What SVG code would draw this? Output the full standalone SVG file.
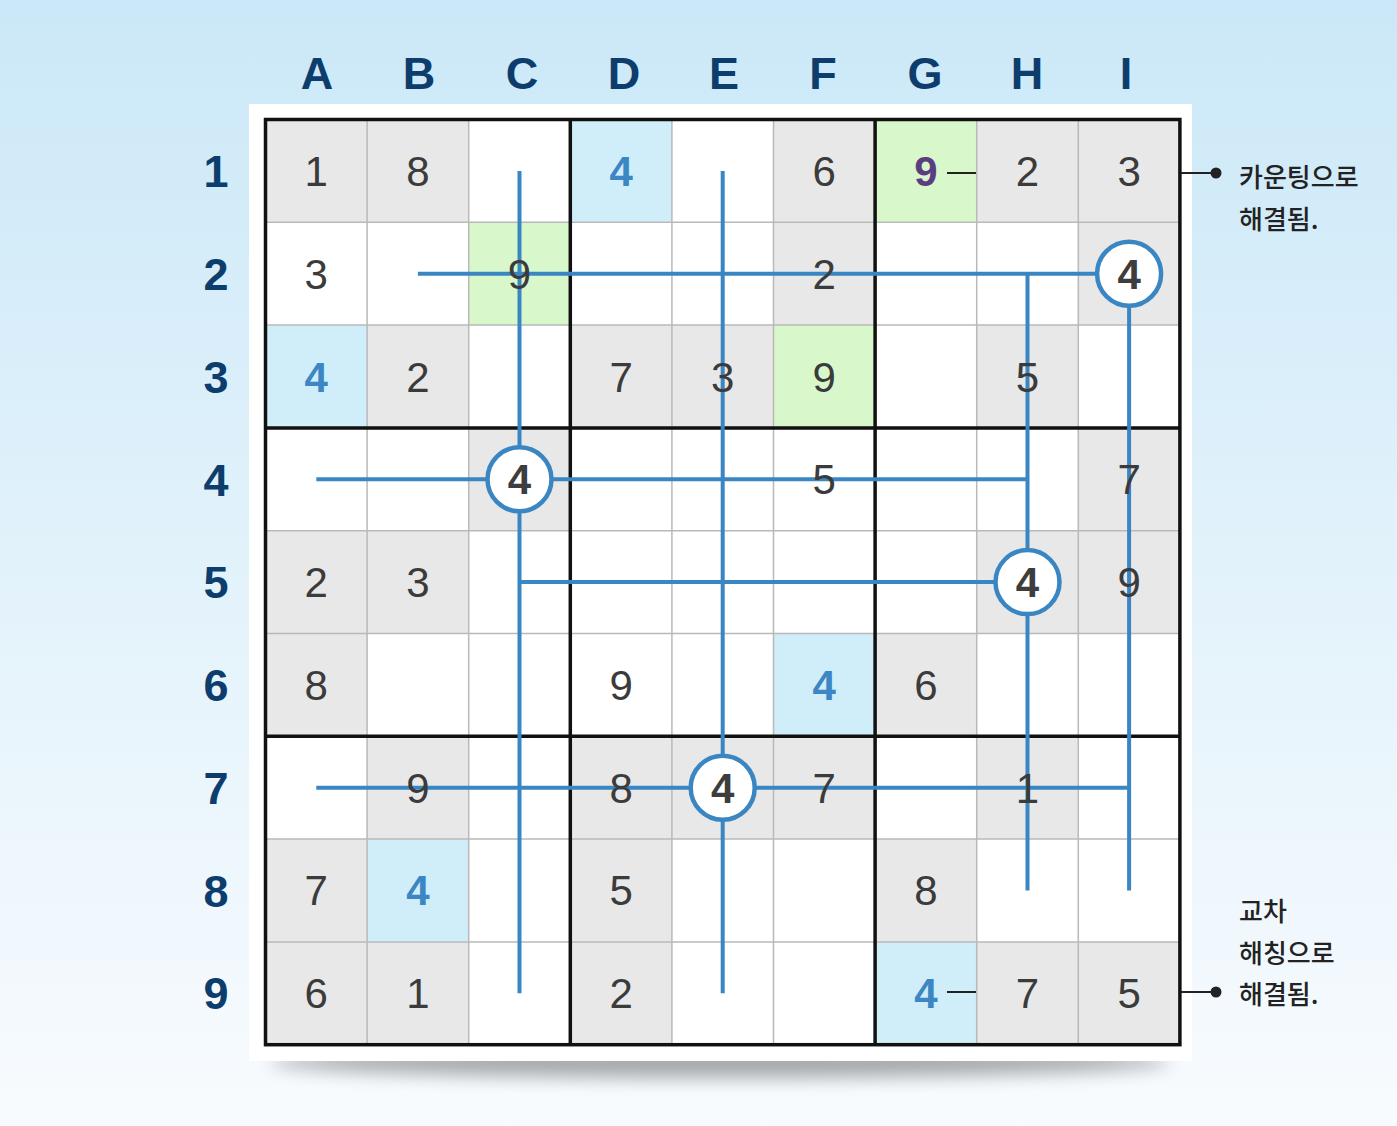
<svg xmlns="http://www.w3.org/2000/svg" width="1397" height="1126" viewBox="0 0 1397 1126">
<defs>
<linearGradient id="bg" x1="0" y1="0" x2="0" y2="1">
<stop offset="0" stop-color="#cbe8f8"/>
<stop offset="0.5" stop-color="#e2f2fb"/>
<stop offset="1" stop-color="#f8fbfe"/>
</linearGradient>
<filter id="blur" x="-20%" y="-200%" width="140%" height="500%">
<feGaussianBlur stdDeviation="9"/>
</filter>
<style>
.hdr{font-family:"Liberation Sans",Arial,sans-serif;font-weight:bold;font-size:45px;fill:#0c3d6c;text-anchor:middle}
.d{font-family:"Liberation Sans",Arial,sans-serif;font-size:42px;fill:#3b3b3b;text-anchor:middle}
.db{font-family:"Liberation Sans",Arial,sans-serif;font-size:42px;font-weight:bold;fill:#3c86c4;text-anchor:middle}
.dp{font-family:"Liberation Sans",Arial,sans-serif;font-size:42px;font-weight:bold;fill:#5a3e80;text-anchor:middle}
.dc{font-family:"Liberation Sans",Arial,sans-serif;font-size:42px;font-weight:bold;fill:#3d3d3d;text-anchor:middle}
.g{fill:#e8e8e8}
.b{fill:#d0edfa}
.gr{fill:#d8f8cc}
.thin{stroke:#b9b9b9;stroke-width:1.5;fill:none}
.thick{stroke:#111;stroke-width:3.5;fill:none}
.bl{stroke:#3a86c3;stroke-width:4;fill:none;stroke-linecap:butt}
.circ{fill:#fff;stroke:#3a86c3;stroke-width:4.5}
.k{stroke:#222;stroke-width:1.8;fill:none}
.lbl{font-family:"Noto Sans CJK KR","Noto Sans",sans-serif;font-size:26px;font-weight:500;fill:#222}
</style>
</defs>
<rect x="0" y="0" width="1397" height="1126" fill="url(#bg)"/>
<ellipse cx="720" cy="1062" rx="450" ry="16" fill="#000" opacity="0.32" filter="url(#blur)"/>
<rect x="249" y="104" width="943" height="957" fill="#ffffff"/>

<g id="headers">
<text class="hdr" x="317" y="89">A</text>
<text class="hdr" x="419" y="89">B</text>
<text class="hdr" x="522" y="89">C</text>
<text class="hdr" x="624" y="89">D</text>
<text class="hdr" x="724" y="89">E</text>
<text class="hdr" x="823" y="89">F</text>
<text class="hdr" x="925" y="89">G</text>
<text class="hdr" x="1027" y="89">H</text>
<text class="hdr" x="1126" y="89">I</text>
<text class="hdr" x="216" y="187">1</text>
<text class="hdr" x="216" y="290">2</text>
<text class="hdr" x="216" y="393">3</text>
<text class="hdr" x="216" y="496">4</text>
<text class="hdr" x="216" y="598">5</text>
<text class="hdr" x="216" y="701">6</text>
<text class="hdr" x="216" y="804">7</text>
<text class="hdr" x="216" y="907">8</text>
<text class="hdr" x="216" y="1009">9</text>
</g>

<g id="cells">
<rect class="g" x="265.5" y="119.5" width="101.6" height="102.8"/>
<rect class="g" x="367.1" y="119.5" width="101.6" height="102.8"/>
<rect class="b" x="570.3" y="119.5" width="101.6" height="102.8"/>
<rect class="g" x="773.5" y="119.5" width="101.6" height="102.8"/>
<rect class="gr" x="875.1" y="119.5" width="101.6" height="102.8"/>
<rect class="g" x="976.7" y="119.5" width="101.6" height="102.8"/>
<rect class="g" x="1078.3" y="119.5" width="101.6" height="102.8"/>

<rect class="gr" x="468.7" y="222.3" width="101.6" height="102.8"/>
<rect class="g" x="773.5" y="222.3" width="101.6" height="102.8"/>
<rect class="g" x="1078.3" y="222.3" width="101.6" height="102.8"/>

<rect class="b" x="265.5" y="325.1" width="101.6" height="102.8"/>
<rect class="g" x="367.1" y="325.1" width="101.6" height="102.8"/>
<rect class="g" x="570.3" y="325.1" width="101.6" height="102.8"/>
<rect class="g" x="671.9" y="325.1" width="101.6" height="102.8"/>
<rect class="gr" x="773.5" y="325.1" width="101.6" height="102.8"/>
<rect class="g" x="976.7" y="325.1" width="101.6" height="102.8"/>

<rect class="g" x="468.7" y="427.9" width="101.6" height="102.8"/>
<rect class="g" x="1078.3" y="427.9" width="101.6" height="102.8"/>

<rect class="g" x="265.5" y="530.7" width="101.6" height="102.8"/>
<rect class="g" x="367.1" y="530.7" width="101.6" height="102.8"/>
<rect class="g" x="976.7" y="530.7" width="101.6" height="102.8"/>
<rect class="g" x="1078.3" y="530.7" width="101.6" height="102.8"/>

<rect class="g" x="265.5" y="633.5" width="101.6" height="102.8"/>
<rect class="b" x="773.5" y="633.5" width="101.6" height="102.8"/>
<rect class="g" x="875.1" y="633.5" width="101.6" height="102.8"/>

<rect class="g" x="367.1" y="736.3" width="101.6" height="102.8"/>
<rect class="g" x="570.3" y="736.3" width="101.6" height="102.8"/>
<rect class="g" x="671.9" y="736.3" width="101.6" height="102.8"/>
<rect class="g" x="773.5" y="736.3" width="101.6" height="102.8"/>
<rect class="g" x="976.7" y="736.3" width="101.6" height="102.8"/>

<rect class="g" x="265.5" y="839.1" width="101.6" height="102.8"/>
<rect class="b" x="367.1" y="839.1" width="101.6" height="102.8"/>
<rect class="g" x="570.3" y="839.1" width="101.6" height="102.8"/>
<rect class="g" x="875.1" y="839.1" width="101.6" height="102.8"/>

<rect class="g" x="265.5" y="941.9" width="101.6" height="102.8"/>
<rect class="g" x="367.1" y="941.9" width="101.6" height="102.8"/>
<rect class="g" x="570.3" y="941.9" width="101.6" height="102.8"/>
<rect class="b" x="875.1" y="941.9" width="101.6" height="102.8"/>
<rect class="g" x="976.7" y="941.9" width="101.6" height="102.8"/>
<rect class="g" x="1078.3" y="941.9" width="101.6" height="102.8"/>
</g>

<g id="gridlines">
<path class="thin" d="M367.1 119.5V1044.7M468.7 119.5V1044.7M671.9 119.5V1044.7M773.5 119.5V1044.7M976.7 119.5V1044.7M1078.3 119.5V1044.7M265.5 222.3H1179.9M265.5 325.1H1179.9M265.5 530.7H1179.9M265.5 633.5H1179.9M265.5 839.1H1179.9M265.5 941.9H1179.9"/>
<path class="thick" d="M570.3 119.5V1044.7M875.1 119.5V1044.7M265.5 427.9H1179.9M265.5 736.3H1179.9"/>
<rect class="thick" x="265.5" y="119.5" width="914.4" height="925.2"/>
</g>

<g id="connectors">
<path class="bl" d="M519.5 170.9V993.3"/>
<path class="bl" d="M417.9 273.7H1129.1"/>
<path class="bl" d="M722.7 170.9V993.3"/>
<path class="bl" d="M316.3 479.3H1027.5"/>
<path class="bl" d="M1027.5 273.7V890.5"/>
<path class="bl" d="M519.5 582.1H1027.5"/>
<path class="bl" d="M1129.1 273.7V890.5"/>
<path class="bl" d="M316.3 787.7H1129.1"/>
<path class="k" d="M947 173H976M1181 173H1216M947 992H976M1181 992H1216"/>
<circle cx="1216" cy="173" r="5.5" fill="#222"/>
<circle cx="1216" cy="992" r="5.5" fill="#222"/>
</g>

<g id="digits">
<text class="d" x="316.3" y="186">1</text>
<text class="d" x="417.9" y="186">8</text>
<text class="db" x="621.1" y="186">4</text>
<text class="d" x="824.3" y="186">6</text>
<text class="dp" x="925.9" y="186">9</text>
<text class="d" x="1027.5" y="186">2</text>
<text class="d" x="1129.1" y="186">3</text>

<text class="d" x="316.3" y="289">3</text>
<text class="d" x="519.5" y="289">9</text>
<text class="d" x="824.3" y="289">2</text>

<text class="db" x="316.3" y="392">4</text>
<text class="d" x="417.9" y="392">2</text>
<text class="d" x="621.1" y="392">7</text>
<text class="d" x="722.7" y="392">3</text>
<text class="d" x="824.3" y="392">9</text>
<text class="d" x="1027.5" y="392">5</text>

<text class="d" x="824.3" y="494">5</text>
<text class="d" x="1129.1" y="494">7</text>

<text class="d" x="316.3" y="597">2</text>
<text class="d" x="417.9" y="597">3</text>
<text class="d" x="1129.1" y="597">9</text>

<text class="d" x="316.3" y="700">8</text>
<text class="d" x="621.1" y="700">9</text>
<text class="db" x="824.3" y="700">4</text>
<text class="d" x="925.9" y="700">6</text>

<text class="d" x="417.9" y="803">9</text>
<text class="d" x="621.1" y="803">8</text>
<text class="d" x="824.3" y="803">7</text>
<text class="d" x="1027.5" y="803">1</text>

<text class="d" x="316.3" y="905">7</text>
<text class="db" x="417.9" y="905">4</text>
<text class="d" x="621.1" y="905">5</text>
<text class="d" x="925.9" y="905">8</text>

<text class="d" x="316.3" y="1008">6</text>
<text class="d" x="417.9" y="1008">1</text>
<text class="d" x="621.1" y="1008">2</text>
<text class="db" x="925.9" y="1008">4</text>
<text class="d" x="1027.5" y="1008">7</text>
<text class="d" x="1129.1" y="1008">5</text>
</g>

<g id="node-C4"><circle class="circ" cx="519.5" cy="479.3" r="32"/><text class="dc" x="519.5" y="494.3">4</text></g>
<g id="node-I2"><circle class="circ" cx="1129.1" cy="273.7" r="32"/><text class="dc" x="1129.1" y="288.7">4</text></g>
<g id="node-H5"><circle class="circ" cx="1027.5" cy="582.1" r="32"/><text class="dc" x="1027.5" y="597.1">4</text></g>
<g id="node-E7"><circle class="circ" cx="722.7" cy="787.7" r="32"/><text class="dc" x="722.7" y="802.7">4</text></g>

<g id="label-counting">
<text class="lbl" x="1239" y="187">카운팅으로</text>
<text class="lbl" x="1239" y="229">해결됨.</text>
</g>
<g id="label-hatching">
<text class="lbl" x="1239" y="921">교차</text>
<text class="lbl" x="1239" y="963">해칭으로</text>
<text class="lbl" x="1239" y="1004">해결됨.</text>
</g>
</svg>
